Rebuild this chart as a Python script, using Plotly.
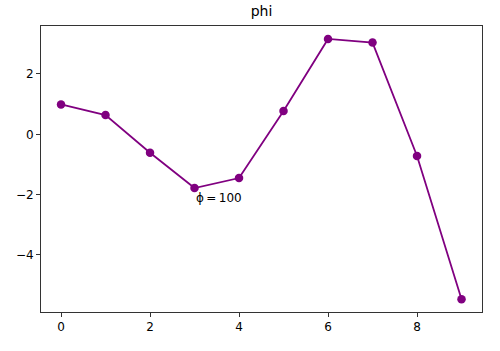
import plotly.graph_objects as go

x_vals = [0, 1, 2, 3, 4, 5, 6, 7, 8, 9]
y_vals = [0.99, 0.64, -0.61, -1.78, -1.45, 0.77, 3.16, 3.04, -0.72, -5.47]
title_text = "phi"
annot_text = "ϕ\u2009=\u2009100"
annot_x = 3
annot_y = -1.78

fig = go.Figure()
fig.add_trace(go.Scatter(
    x=x_vals, y=y_vals, mode="lines+markers",
    line=dict(color="#800080", width=1.8),
    marker=dict(color="#800080", size=8.5),
    showlegend=False,
))
fig.add_annotation(
    x=annot_x, y=annot_y, text=annot_text, showarrow=False,
    xanchor="left", yanchor="top", xshift=-1, yshift=-1,
    font=dict(family="DejaVu Sans", size=12, color="#000000"),
)

axis_common = dict(
    showline=True, linecolor="#333333", linewidth=1, mirror=True,
    ticks="outside", ticklen=4, tickcolor="#333333", tickwidth=1,
    showgrid=False, zeroline=False,
    tickfont=dict(family="DejaVu Sans", size=12, color="black"),
)
fig.update_xaxes(range=[-0.45, 9.46], tickvals=[0, 2, 4, 6, 8], **axis_common)
fig.update_yaxes(range=[-5.89, 3.59], tickvals=[-4, -2, 0, 2],
                 ticktext=["−4", "−2", "0", "2"], **axis_common)

fig.update_layout(
    width=500, height=351,
    margin=dict(l=41, r=18, t=26, b=39),
    paper_bgcolor="white", plot_bgcolor="white",
    title=dict(text=title_text, x=0.5, xref="paper", y=1, yref="container",
               yanchor="top", pad=dict(t=6),
               font=dict(family="DejaVu Sans", size=14, color="black")),
)
fig.write_html("out.html")
